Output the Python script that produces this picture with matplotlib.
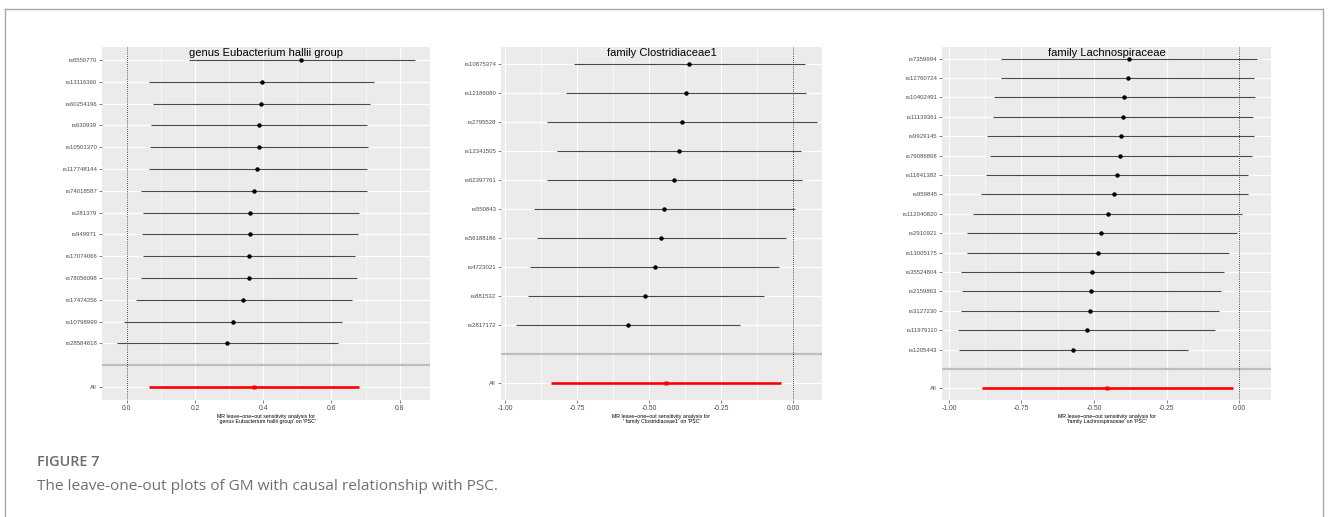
import numpy as np
import matplotlib.pyplot as plt
from matplotlib.lines import Line2D
from matplotlib.ticker import MultipleLocator, FormatStrFormatter

# leave-one-out estimates: SNP, beta, lower, upper (top row first); "All" last
snp1 = ["rs6550770", "rs13116360", "rs60254196", "rs630939", "rs10501370", "rs117748144",
        "rs74018587", "rs281379", "rs949971", "rs17074066", "rs78056098", "rs17474256",
        "rs10798999", "rs28584818"]
b1 = [0.512, 0.395, 0.393, 0.388, 0.387, 0.383, 0.372, 0.362, 0.362, 0.359, 0.358, 0.341, 0.310, 0.294]
lo1 = [0.183, 0.065, 0.077, 0.070, 0.067, 0.065, 0.040, 0.046, 0.045, 0.048, 0.041, 0.026, -0.008, -0.030]
hi1 = [0.845, 0.724, 0.713, 0.705, 0.706, 0.703, 0.705, 0.680, 0.679, 0.669, 0.674, 0.659, 0.630, 0.620]
all1 = (0.372, 0.065, 0.680)

snp2 = ["rs10875374", "rs12186080", "rs2795528", "rs12341505", "rs62397761", "rs550843",
        "rs56188186", "rs4723021", "rs881532", "rs2817172"]
b2 = [-0.360, -0.373, -0.387, -0.396, -0.412, -0.447, -0.457, -0.480, -0.514, -0.574]
lo2 = [-0.759, -0.789, -0.855, -0.818, -0.855, -0.899, -0.888, -0.913, -0.921, -0.962]
hi2 = [0.042, 0.045, 0.084, 0.027, 0.031, 0.007, -0.024, -0.048, -0.103, -0.185]
all2 = (-0.441, -0.840, -0.041)

snp3 = ["rs7359994", "rs12760724", "rs10402491", "rs11139361", "rs9929145", "rs79086868",
        "rs11841382", "rs959845", "rs112040820", "rs2910921", "rs13005175", "rs35524804",
        "rs2159863", "rs3127230", "rs11979110", "rs1205443"]
b3 = [-0.380, -0.384, -0.396, -0.401, -0.408, -0.409, -0.421, -0.431, -0.453, -0.475,
      -0.487, -0.506, -0.510, -0.514, -0.525, -0.571]
lo3 = [-0.821, -0.821, -0.845, -0.849, -0.868, -0.860, -0.871, -0.891, -0.917, -0.939,
       -0.939, -0.959, -0.954, -0.959, -0.968, -0.964]
hi3 = [0.061, 0.052, 0.055, 0.047, 0.053, 0.044, 0.030, 0.032, 0.010, -0.008,
       -0.034, -0.052, -0.063, -0.069, -0.082, -0.177]
all3 = (-0.454, -0.887, -0.022)

titles = ["genus Eubacterium hallii group", "family Clostridiaceae1", "family Lachnospiraceae"]
xlabels = ["MR leave\u2212one\u2212out sensitivity analysis for\n' genus Eubacterium hallii group' on 'PSC'",
           "MR leave\u2212one\u2212out sensitivity analysis for\n' family Clostridiaceae1' on 'PSC'",
           "MR leave\u2212one\u2212out sensitivity analysis for\n'family Lachnospiraceae' on 'PSC'"]

W, H = 1328, 517
fig = plt.figure(figsize=(W / 100, H / 100), dpi=100)
plt.rcParams['font.family'] = ['Liberation Sans', 'DejaVu Sans']

# axes boxes in pixels: left, right, xlim, major step, tick format
boxes = [(102, 430, (-0.073, 0.889), 0.2, "%.1f"),
         (501, 822, (-1.014, 0.10), 0.25, "%.2f"),
         (942, 1271, (-1.024, 0.11), 0.25, "%.2f")]
top_px, bot_px = 47, 400

panels = [(snp1, b1, lo1, hi1, all1), (snp2, b2, lo2, hi2, all2), (snp3, b3, lo3, hi3, all3)]

for i, (snps, b, lo, hi, allv) in enumerate(panels):
    l, r, xl, step, fmt = boxes[i]
    ax = fig.add_axes([l / W, 1 - bot_px / H, (r - l) / W, (bot_px - top_px) / H])
    ax.set_facecolor("#EBEBEB")
    for s in ax.spines.values():
        s.set_visible(False)

    n = len(snps)
    ypos = np.arange(n + 2, 2, -1)  # SNP rows, "All" at 1, blank at 2
    ax.set_ylim(0.4, n + 2.6)
    ax.set_xlim(*xl)

    ax.xaxis.set_major_locator(MultipleLocator(step))
    ax.xaxis.set_minor_locator(MultipleLocator(step / 2))
    ax.xaxis.set_major_formatter(FormatStrFormatter(fmt))
    ax.set_yticks(list(ypos) + [1])
    ax.set_yticklabels(snps + ["All"])
    ax.grid(which="major", color="white", lw=0.9)
    ax.grid(which="minor", axis="x", color="white", lw=0.45)
    ax.set_axisbelow(True)
    ax.tick_params(axis="y", which="major", labelsize=4.3, labelcolor="#4D4D4D",
                   color="#4D4D4D", length=2, width=0.5, pad=1.5)
    ax.tick_params(axis="x", which="major", labelsize=4.9, labelcolor="#4D4D4D",
                   color="#4D4D4D", length=2, width=0.5, pad=1.5)
    ax.tick_params(which="minor", length=0)

    ax.axhline(2, color="#BEBEBE", lw=1.6)
    ax.axvline(0, color="black", ls=(0, (1, 1.5)), lw=0.6)

    ax.hlines(ypos, lo, hi, color="#4A4A4A", lw=0.8)
    ax.plot(b, ypos, "o", color="black", ms=3.2, mec="none")
    ax.hlines(1, allv[1], allv[2], color="red", lw=1.9)
    ax.plot(allv[0], 1, "s", color="red", ms=2.6, mec="none")

    ax.text(0.5, 0.997, titles[i], transform=ax.transAxes, ha="center", va="top", fontsize=8)
    ax.set_xlabel(xlabels[i], fontsize=3.8, labelpad=1.5, linespacing=1.1)

# frame around the figure block (open at the bottom)
fx0, fx1, fy0 = 5 / W, 1323 / W, 1 - 9 / H
for xs, ys in [([fx0, fx0], [0, fy0]), ([fx0, fx1], [fy0, fy0]), ([fx1, fx1], [fy0, 0])]:
    fig.add_artist(Line2D(xs, ys, color="#A8A8A8", lw=1.0, transform=fig.transFigure))

fig.text(37 / W, 1 - 462 / H, "FIGURE 7", family="Open Sans", fontweight="semibold",
         fontsize=10.4, color="#6B6B6B", va="center", ha="left")
fig.text(37 / W, 1 - 486 / H, "The leave-one-out plots of GM with causal relationship with PSC.",
         family="Open Sans", fontsize=11.05, color="#707070", va="center", ha="left")

fig.savefig("out.png", dpi=100)
